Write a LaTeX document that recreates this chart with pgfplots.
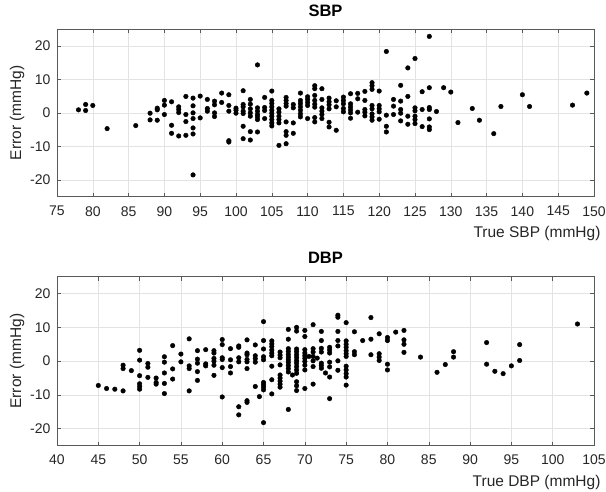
\documentclass[border=0pt]{standalone}
\usepackage{pgfplots}
\pgfplotsset{compat=1.18}
\usepackage{fontspec}
\setmainfont{Liberation Sans}
\definecolor{axgray}{gray}{0.35}
\definecolor{txtgray}{gray}{0.15}
\pgfplotsset{
  mstyle/.style={
    scale only axis, width=537pt,
    ymin=-25, ymax=25, ytick={-20,-10,0,10,20},
    grid=major, major grid style={gray!22, line width=0.5pt},
    axis line style={axgray, line width=0.6pt},
    tick style={axgray, line width=0.5pt},
    tick align=inside, major tick length=4pt,
    tick pos=both, ticklabel pos=left,
    /pgf/number format/assume math mode=true,
    tick label style={font=\fontsize{14}{15}\selectfont, text=txtgray},
    xticklabel style={yshift=-6pt},
    yticklabel style={xshift=-3pt},
    label style={font=\fontsize{15.5}{17}\selectfont, text=txtgray},
    title style={font=\bfseries\fontsize{16.5}{18}\selectfont, at={(axis description cs:0.5,1)}, anchor=center, yshift=12.5pt},
    ylabel={Error (mmHg)},
    ylabel style={at={(axis description cs:-0.0745,0.5)}, anchor=center},
    xlabel style={at={(axis description cs:1.0186,0)}, anchor=base east, yshift=-41pt},
    clip=false,
  }
}
\begin{document}
\begin{tikzpicture}[x=1pt,y=1pt]
\path[use as bounding box] (0,0) rectangle (606,491);
\begin{axis}[mstyle, at={(57pt,294.3pt)}, anchor=south west, height=167.7pt,
  xmin=75, xmax=150, xtick={75,80,...,150}, title={SBP}, xlabel={True SBP (mmHg)}]
\addplot[only marks, mark=*, mark size=2.3pt, black] table {
x y
78 0.9
79 2.5
79 0.7
80 2.2
82 -4.7
86 -3.8
88 -0.1
88 -2.1
89 1.4
89 0.9
89 -2.2
90 3.7
90 2.3
90 -0.5
91 3.3
91 -3.7
91 -6.1
92 1.8
92 1.0
92 0.1
92 -6.9
93 4.9
93 -0.5
93 -2.6
93 -6.7
94 4.4
94 2.1
94 0
94 -1.7
94 -4.5
94 -6.3
94 -18.5
95 5.0
95 -1.5
96 4.0
96 1.3
96 0.5
97 3.5
97 2.4
97 0
97 -1.1
98 5.9
98 3.1
99 5.4
99 2.2
99 0.5
99 -8.3
99 -8.7
100 1.4
100 0.8
100 -0.1
101 6.6
101 2.5
101 1.8
101 0.5
101 -0.2
101 -4.0
101 -7.7
102 4.0
102 2.6
102 1.2
102 0
102 -1.0
102 -5.6
102 -8.1
103 14.3
103 1.5
103 0.5
103 -0.5
103 -1.2
103 -2.0
103 -5.7
104 4.6
104 1.6
104 0.7
104 -1.7
105 6.5
105 3.7
105 2.8
105 1.8
105 0.8
105 -0.1
105 -1.0
105 -2.0
105 -3.0
105 -3.9
106 1.2
106 0.2
106 -1.0
106 -2.0
106 -3.0
106 -9.7
107 4.6
107 3.7
107 2.8
107 2.0
107 -2.7
107 -5.6
107 -6.7
107 -9.2
108 2.5
108 1.5
108 -3.0
108 -6.1
109 5.9
109 3.7
109 2.8
109 1.8
109 0.8
109 -0.3
109 -1.2
110 4.8
110 4.0
110 3.1
110 2.2
110 -1.7
111 8.1
111 7.2
111 5.2
111 3.7
111 2.6
111 1.7
111 -1.4
111 -2.7
112 7.2
112 4.0
112 1.5
112 0.5
112 -0.5
112 -1.7
113 4.4
113 3.3
113 2.4
113 1.2
113 -2.8
113 -4.2
114 3.6
114 1.8
114 -5.2
115 4.7
115 3.7
115 2.7
115 1.3
115 0.3
116 5.7
116 2.7
116 1.8
116 0.9
116 0
116 -1.6
117 5.8
117 4.2
117 0.2
118 6.4
118 3.7
118 1.0
118 0.2
118 -0.9
119 9.0
119 8.1
119 7.0
119 2.2
119 1.2
119 -0.3
119 -1.2
119 -2.2
120 6.5
120 2.2
120 1.2
120 0.3
120 -1.9
121 18.3
121 -0.7
121 -4.0
121 -5.7
122 4.0
122 2.0
122 -0.5
123 8.2
123 3.5
123 1.0
123 -0.1
123 -2.4
124 13.4
124 4.9
124 -1.0
124 -3.4
125 16.2
125 1.5
125 0.6
125 -1.0
125 -2.0
125 -3.2
126 6.3
126 1.0
126 -4.1
127 22.8
127 7.5
127 1.6
127 1.0
127 -1.8
127 -4.2
127 -5.0
128 0.4
129 7.5
130 6.2
131 -2.9
133 1.3
134 -2.2
136 -6.2
137 1.9
140 5.4
141 1.9
147 2.3
149 5.9
};
\end{axis}
\begin{axis}[mstyle, at={(57pt,45.4pt)}, anchor=south west, height=168.9pt,
  xmin=40, xmax=105, xtick={40,45,...,105}, title={DBP}, xlabel={True DBP (mmHg)}]
\addplot[only marks, mark=*, mark size=2.3pt, black] table {
x y
45 -7.2
46 -8.1
47 -8.3
48 -8.8
48 -1.2
48 -2.2
49 -2.8
50 3.2
50 0.3
50 -4.3
50 -6.7
50 -7.5
50 -8.3
51 -0.7
51 -1.8
51 -4.8
52 -5.0
52 -6.3
52 -6.8
53 1.3
53 -0.3
53 -3.5
53 -6.6
53 -9.6
54 4.6
54 -2.3
54 -5.3
55 2.1
55 -0.2
56 6.6
56 -1.4
56 -2.2
56 -8.8
57 3.1
57 0.6
57 -0.6
57 -3.1
57 -5.7
58 3.4
58 -0.8
58 -1.4
59 3.1
59 2.4
59 0.8
59 0
59 -1.2
59 -4.2
60 6.4
60 4.9
60 1.0
60 0.5
60 -1.9
60 -10.6
61 3.7
61 0.4
61 -1.6
61 -3.5
62 4.5
62 4.1
62 1.0
62 -0.2
62 -13.5
62 -15.9
63 6.3
63 2.4
63 1.9
63 0.5
63 -0.2
63 -2.2
63 -11.7
63 -12.2
64 4.8
64 1.6
64 0.7
64 -0.3
64 -7.5
64.5 -10.5
65 11.7
65 6.1
65 3.6
65 1.3
65 0.4
65 -6.3
65 -7.0
65 -7.7
65 -8.5
65 -18.2
66 6.0
66 5.1
66 4.3
66 3.3
66 2.4
66 1.6
66 -1.5
66 -5.5
66 -9.7
67 2.7
67 1.8
67 1.0
67 -1.1
67 -4.1
67 -5.0
67 -5.9
67 -6.8
67 -7.7
68 9.4
68 6.5
68 3.7
68 2.9
68 2.0
68 1.2
68 0.4
68 -0.4
68 -1.3
68 -2.2
68 -3.2
68 -14.3
68.5 -4.1
69 10.0
69 8.9
69 3.6
69 2.8
69 1.9
69 1.1
69 0.2
69 -0.6
69 -1.6
69 -2.6
69 -3.6
69 -6.1
69 -7.3
69 -8.7
70 9.1
70 7.3
70 3.4
70 2.4
70 1.6
70 0.8
70 -0.1
70 -1.2
70 -2.6
70 -8.1
70.5 1.4
71 10.8
71 3.7
71 2.7
71 1.4
71 0.1
71 -1.6
71 -6.8
71.5 0.9
72 8.8
72 6.1
72 3.8
72 2.7
72 -0.6
72 -1.3
72 -2.1
72.5 -3.5
73 4.1
73 3.3
73 2.4
73 -0.3
73 -1.7
73 -4.7
73 -11.1
74 13.6
74 13.0
74 8.8
74 6.1
74 4.5
74 0.1
74 -2.7
75 11.4
75 6.0
75 5.0
75 4.1
75 3.1
75 2.2
75 1.4
75 -1.5
75 -2.6
75 -3.7
75 -4.7
75 -7.1
76 8.7
76 2.8
76 1.9
77 6.1
78 12.9
78 6.5
78 1.9
79 8.1
79 2.2
79 1.2
79 0.2
80 7.0
80 6.1
80 -0.9
80 -2.6
81 8.6
82 9.1
82 6.3
82 5.0
82 2.6
84 1.2
86 -3.3
87 -1.0
88 2.8
88 1.2
92 5.5
92 -0.9
93 -3.0
94 -3.7
95 -1.4
96 4.9
96 0.2
103 11.0
};
\end{axis}
\end{tikzpicture}
\end{document}
